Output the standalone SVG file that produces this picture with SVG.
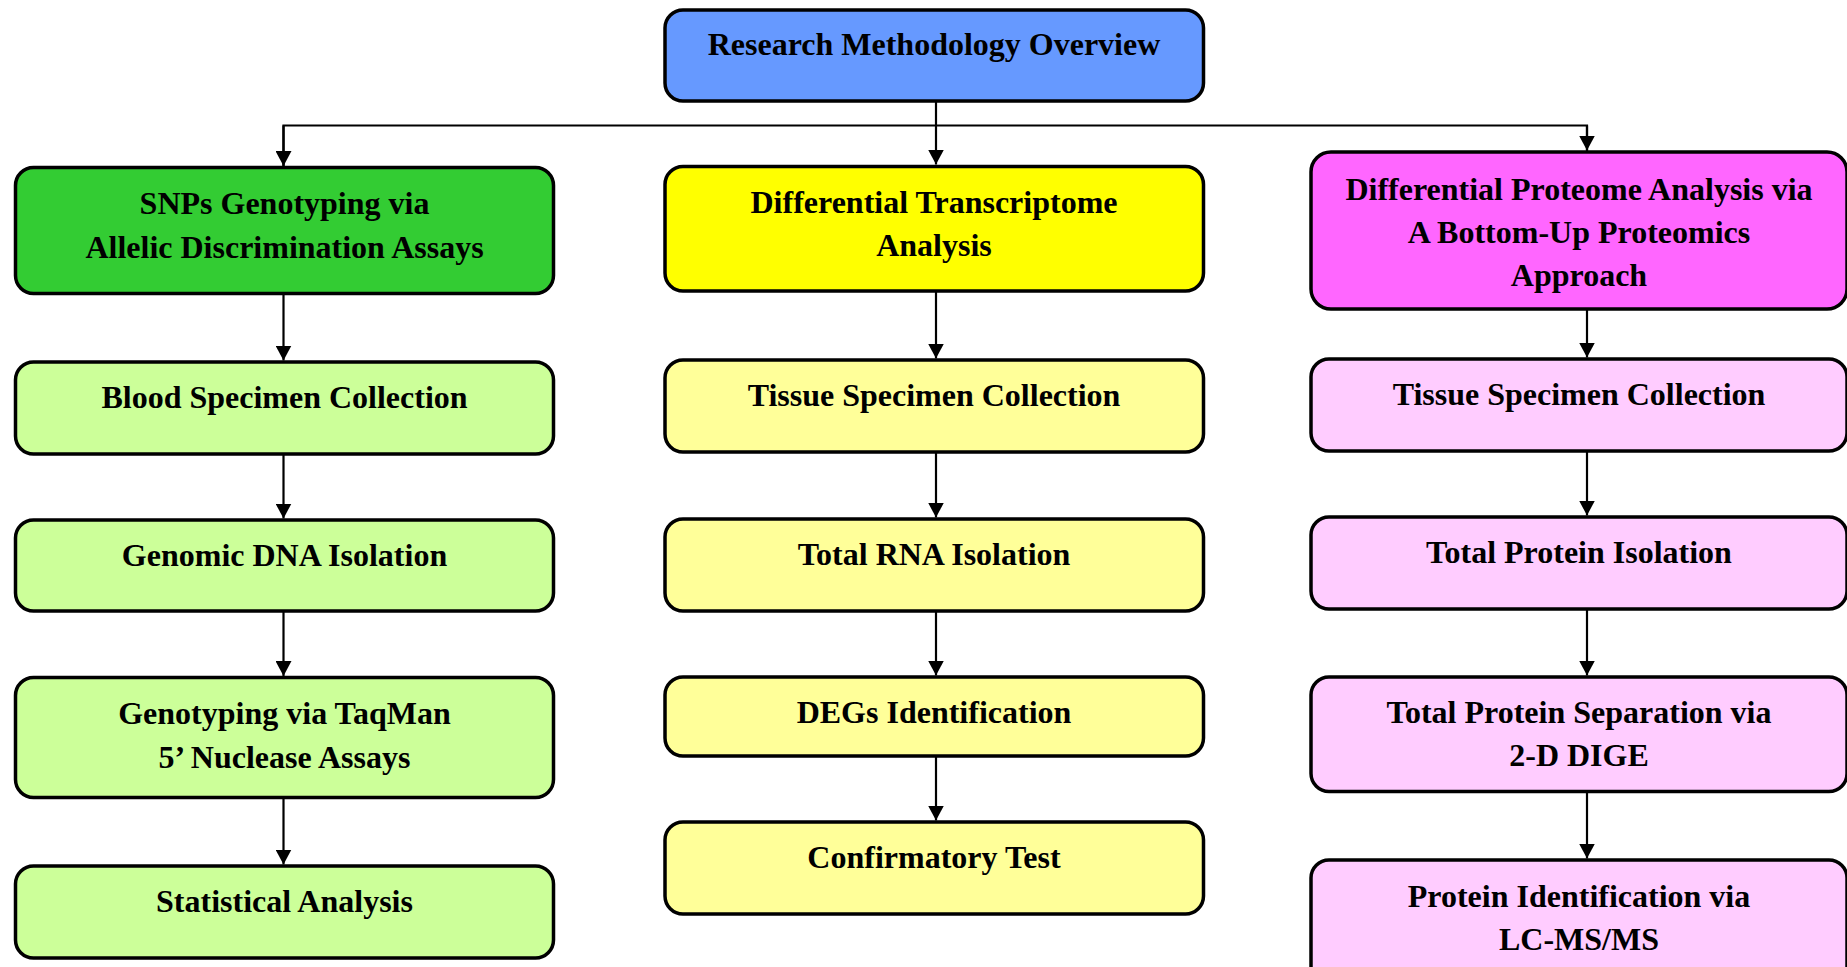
<svg xmlns="http://www.w3.org/2000/svg" width="1847" height="967" viewBox="0 0 1847 967">
<style>
.box{stroke:#000;stroke-width:3.5}
.t{font-family:"Liberation Serif","Times New Roman",serif;font-weight:bold;font-size:32px;fill:#000;text-anchor:middle}
.c{stroke:#000;stroke-width:2.2;fill:none}
.a{marker-end:url(#arr)}
.blue{fill:#6699FF}.g1{fill:#33CC33}.g2{fill:#CCFF99}.y1{fill:#FFFF00}.y2{fill:#FFFF99}.p1{fill:#FF66FF}.p2{fill:#FFCCFF}
</style>
<defs>
<marker id="arr" markerUnits="userSpaceOnUse" markerWidth="16" markerHeight="16" viewBox="0 0 16 16" refX="15" refY="8" orient="auto">
<path d="M0,0 L15,8 L0,16 z" fill="#000"/>
</marker>
</defs>
<rect width="1847" height="967" fill="#fff"/>
<g id="connectors">
<line class="c a" x1="936" y1="101" x2="936" y2="164.5"/>
<polyline class="c" points="283.5,167 283.5,125.5 1587,125.5 1587,151"/>
<line class="c a" x1="283.5" y1="125.5" x2="283.5" y2="166"/>
<line class="c a" x1="1587" y1="125.5" x2="1587" y2="150.5"/>
<line class="c a" x1="283.5" y1="293.5" x2="283.5" y2="360.5"/>
<line class="c a" x1="283.5" y1="454" x2="283.5" y2="518.5"/>
<line class="c a" x1="283.5" y1="611" x2="283.5" y2="676"/>
<line class="c a" x1="283.5" y1="797.5" x2="283.5" y2="864.5"/>
<line class="c a" x1="936" y1="291" x2="936" y2="358.5"/>
<line class="c a" x1="936" y1="452" x2="936" y2="517.5"/>
<line class="c a" x1="936" y1="611" x2="936" y2="675.5"/>
<line class="c a" x1="936" y1="756" x2="936" y2="820.5"/>
<line class="c a" x1="1587" y1="309" x2="1587" y2="357.5"/>
<line class="c a" x1="1587" y1="451" x2="1587" y2="515.5"/>
<line class="c a" x1="1587" y1="609" x2="1587" y2="675.5"/>
<line class="c a" x1="1587" y1="791.5" x2="1587" y2="858.5"/>
</g>
<g id="overview">
<rect class="box blue" x="665" y="10" width="538.5" height="91" rx="18"/>
<text class="t" x="934" y="55">Research Methodology Overview</text>
</g>
<g id="snps">
<rect class="box g1" x="15.5" y="167.5" width="538" height="126" rx="18"/>
<text class="t" x="284.5" y="214">SNPs Genotyping via</text>
<text class="t" x="284.5" y="258">Allelic Discrimination Assays</text>
</g>
<g id="blood">
<rect class="box g2" x="15.5" y="362" width="538" height="92" rx="18"/>
<text class="t" x="284.5" y="408">Blood Specimen Collection</text>
</g>
<g id="dna">
<rect class="box g2" x="15.5" y="520" width="538" height="91" rx="18"/>
<text class="t" x="284.5" y="566">Genomic DNA Isolation</text>
</g>
<g id="taqman">
<rect class="box g2" x="15.5" y="677.5" width="538" height="120" rx="18"/>
<text class="t" x="284.5" y="724">Genotyping via TaqMan</text>
<text class="t" x="284.5" y="768">5’ Nuclease Assays</text>
</g>
<g id="stats">
<rect class="box g2" x="15.5" y="866" width="538" height="92" rx="18"/>
<text class="t" x="284.5" y="912">Statistical Analysis</text>
</g>
<g id="transcriptome">
<rect class="box y1" x="665" y="166.5" width="538.5" height="124.5" rx="18"/>
<text class="t" x="934" y="213">Differential Transcriptome</text>
<text class="t" x="934" y="256">Analysis</text>
</g>
<g id="tissue1">
<rect class="box y2" x="665" y="360" width="538.5" height="92" rx="18"/>
<text class="t" x="934" y="406">Tissue Specimen Collection</text>
</g>
<g id="rna">
<rect class="box y2" x="665" y="519" width="538.5" height="92" rx="18"/>
<text class="t" x="934" y="565">Total RNA Isolation</text>
</g>
<g id="degs">
<rect class="box y2" x="665" y="677" width="538.5" height="79" rx="18"/>
<text class="t" x="934" y="723">DEGs Identification</text>
</g>
<g id="confirm">
<rect class="box y2" x="665" y="822" width="538.5" height="92" rx="18"/>
<text class="t" x="934" y="868">Confirmatory Test</text>
</g>
<g id="proteome">
<rect class="box p1" x="1311" y="152" width="536" height="157" rx="20"/>
<text class="t" x="1579" y="200">Differential Proteome Analysis via</text>
<text class="t" x="1579" y="243">A Bottom-Up Proteomics</text>
<text class="t" x="1579" y="286">Approach</text>
</g>
<g id="tissue2">
<rect class="box p2" x="1311" y="359" width="536" height="92" rx="18"/>
<text class="t" x="1579" y="405">Tissue Specimen Collection</text>
</g>
<g id="protein">
<rect class="box p2" x="1311" y="517" width="536" height="92" rx="18"/>
<text class="t" x="1579" y="563">Total Protein Isolation</text>
</g>
<g id="dige">
<rect class="box p2" x="1311" y="677" width="536" height="114.5" rx="18"/>
<text class="t" x="1579" y="723">Total Protein Separation via</text>
<text class="t" x="1579" y="766">2-D DIGE</text>
</g>
<g id="lcms">
<rect class="box p2" x="1311" y="860" width="536" height="125" rx="18"/>
<text class="t" x="1579" y="907">Protein Identification via</text>
<text class="t" x="1579" y="950">LC-MS/MS</text>
</g>
</svg>
